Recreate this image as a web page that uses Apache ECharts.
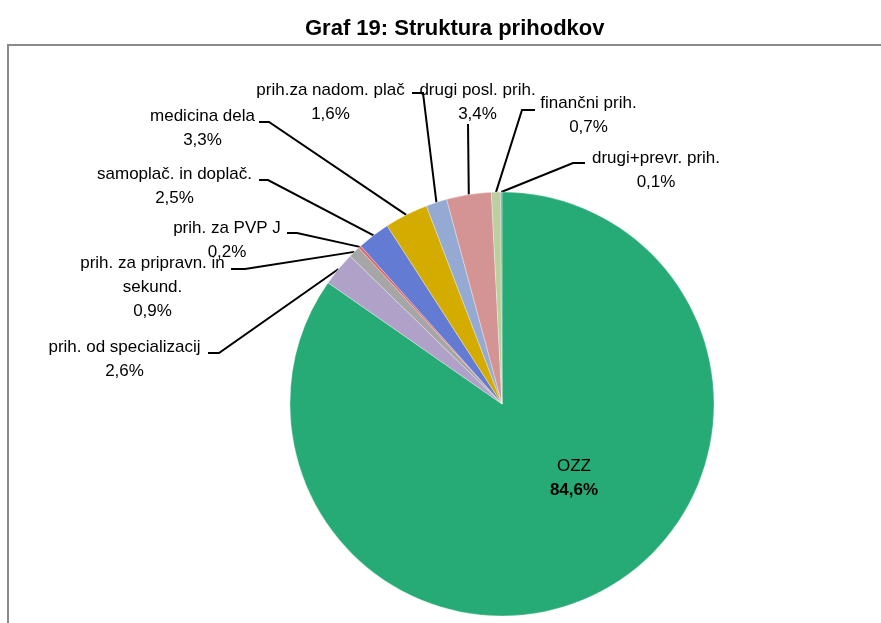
<!DOCTYPE html>
<html><head><meta charset="utf-8">
<script src="https://cdn.jsdelivr.net/npm/echarts@6/dist/echarts.min.js"></script>
<style>html,body{margin:0;padding:0;background:#fff}#c{width:881px;height:623px}</style>
</head><body><div id="c"></div>
<script>
// Data
const categories = ['OZZ','prih. od specializacij','prih. za pripravn. in\nsekund.','prih. za PVP J','samoplač. in doplač.','medicina dela','prih.za nadom. plač','drugi posl. prih.','finančni prih.','drugi+prevr. prih.'];
const shares = [84.6, 2.6, 0.9, 0.2, 2.5, 3.3, 1.6, 3.4, 0.7, 0.1];

// Styles / layout (not data)
const colors = ['#27AB76','#B0A1C9','#A6A6A6','#E06464','#637BD3','#D4AC00','#95AAD3','#D49494','#BCD09F','#9A90C8'];
const labelAnchor = [[574,454],[124.5,335],[152.5,251],[227,216],[174.5,162],[202.5,104],[330.5,78],[477.5,78],[588.5,91],[656,146]];
const leaderTail = [null, [[219,353],[208,353]], [[245,269],[231,269]], [[297,233],[287,233]], [[268,180],[259,180]], [[269,122],[259,122]], [[423,93],[412,93]], [[468,124]], [[522,110],[535,110]], [[573,163],[585,163]]];

const FONT = '"Liberation Sans", Arial, sans-serif';
const chart = echarts.init(document.getElementById('c'), null, {renderer: 'canvas'});

const data = categories.map((name, i) => {
  const d = { name: name, value: shares[i], itemStyle: { color: colors[i] } };
  if (i === 0) d.labelLine = { show: false };
  return d;
});

chart.setOption({
  animation: false,
  backgroundColor: '#fff',
  title: {
    text: 'Graf 19: Struktura prihodkov',
    left: 305, top: 18, padding: 0,
    textStyle: { fontFamily: FONT, fontSize: 22, fontWeight: 'bold', color: '#000' }
  },
  graphic: [{
    type: 'rect', z: -1, silent: true,
    shape: { x: 8, y: 45, width: 1000, height: 1000 },
    style: { fill: 'none', stroke: '#8a8a8a', lineWidth: 2 }
  }],
  series: [{
    type: 'pie',
    center: [502, 404],
    radius: 212,
    startAngle: 90,
    clockwise: true,
    avoidLabelOverlap: false,
    itemStyle: { borderColor: '#fff', borderWidth: 0.3 },
    label: {
      show: true, position: 'outside',
      fontFamily: FONT, fontSize: 17, color: '#000', lineHeight: 24,
      formatter: function (p) {
        const v = p.value.toFixed(1).replace('.', ',') + '%';
        if (p.dataIndex === 0) return '{n|' + p.name + '}\n{b|' + v + '}';
        return p.name + '\n' + v;
      },
      rich: {
        n: { fontFamily: FONT, fontSize: 17, color: '#000', lineHeight: 24, align: 'center' },
        b: { fontFamily: FONT, fontSize: 17, fontWeight: 'bold', color: '#000', lineHeight: 24, align: 'center' }
      }
    },
    labelLine: {
      show: true, smooth: false, length: 10, length2: 10,
      lineStyle: { color: '#000', width: 2 }
    },
    labelLayout: function (params) {
      const i = params.dataIndex;
      const a = labelAnchor[i];
      const out = { x: a[0], y: a[1], align: 'center', verticalAlign: 'top' };
      const tail = leaderTail[i];
      if (tail && params.labelLinePoints && params.labelLinePoints.length) {
        out.labelLinePoints = [params.labelLinePoints[0]].concat(tail);
      }
      return out;
    },
    data: data
  }]
});
</script>
</body></html>
